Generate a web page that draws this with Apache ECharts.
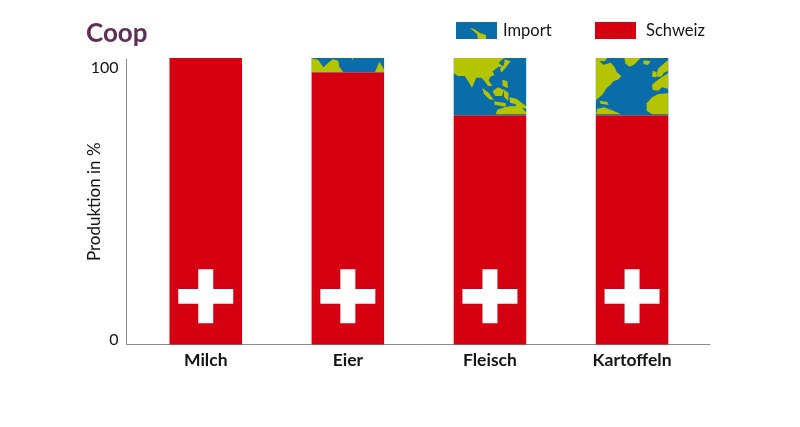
<!DOCTYPE html>
<html>
<head>
<meta charset="utf-8">
<style>html,body{margin:0;padding:0;background:#fff}#c{width:800px;height:427px}</style>
<script src="https://cdn.jsdelivr.net/npm/echarts@6/dist/echarts.min.js"></script>
</head>
<body>
<div id="c"></div>
<script>
const categories = ['Milch', 'Eier', 'Fleisch', 'Kartoffeln'];
const schweiz = [100, 95, 80, 80];
const importe = [0, 5, 20, 20];
const crossLevel = [16.8, 16.8, 16.8, 16.8];
const yTicks = [0, 100];

const BLUE = '#0a6ca8', LAND = '#b5c400', RED = '#d40012';

// Decorative world-map fills for the import segments (zoom-space outlines: offset + v/3)
const maps = [
  { o: [448, 52], p: [
    [[17,18],[168,18],[152,32],[166,46],[152,44],[134,58],[139,70],[127,74],[122,85],[133,102],[120,102],[110,88],[100,77],[85,77],[72,107],[60,87],[50,72],[30,72],[17,64]],
    [[170,22],[188,28],[174,46],[160,62],[156,50],[168,38]],
    [[163,83],[178,88],[180,108],[164,102]],
    [[133,118],[150,106],[168,114],[162,132],[142,132]],
    [[103,108],[122,122],[138,144],[124,142],[108,126]],
    [[138,148],[174,154],[172,164],[140,158]],
    [[168,113],[182,123],[180,147],[168,134]],
    [[184,136],[205,140],[235,163],[235,170],[218,167],[203,157],[186,152]],
    [[143,187],[148,173],[170,166],[185,163],[200,163],[212,155],[224,170],[234,180],[234,187]]
  ]},
  { o: [590, 52], p: [
    [[18,18],[52,18],[44,28],[28,27],[40,38],[62,32],[74,46],[80,60],[94,72],[86,82],[70,88],[62,98],[50,108],[37,128],[28,136],[18,144]],
    [[103,18],[152,18],[132,38],[118,44],[106,34]],
    [[161,25],[182,28],[174,39],[160,36]],
    [[188,56],[200,60],[198,76],[186,74]],
    [[198,74],[204,50],[220,36],[234,24],[234,57],[222,62],[214,74]],
    [[234,64],[215,76],[200,86],[186,98],[188,114],[205,116],[216,106],[234,110]],
    [[234,124],[205,126],[186,136],[170,154],[170,176],[186,187],[234,187]],
    [[18,187],[22,170],[42,166],[64,174],[94,187]],
    [[28,146],[52,150],[56,159],[32,155]]
  ]},
  { o: [60, 10], p: [
    [[755,145],[775,150],[790,172],[805,158],[818,148],[835,152],[838,170],[850,187],[755,187]],
    [[945,187],[958,155],[972,178],[972,187]],
    [[875,143],[882,146],[876,149]]
  ]}
];

function importFill() {
  const cv = document.createElement('canvas');
  cv.width = 800; cv.height = 427;
  const g = cv.getContext('2d');
  g.fillStyle = BLUE; g.fillRect(0, 0, 800, 427);
  g.fillStyle = LAND;
  maps.forEach(m => m.p.forEach(poly => {
    g.beginPath();
    poly.forEach((v, i) => {
      const x = m.o[0] + v[0] / 3, y = m.o[1] + v[1] / 3;
      i ? g.lineTo(x, y) : g.moveTo(x, y);
    });
    g.closePath(); g.fill();
  }));
  return { image: cv, repeat: 'no-repeat' };
}
function swatchFill() {
  const cv = document.createElement('canvas');
  cv.width = 41; cv.height = 17;
  const g = cv.getContext('2d');
  g.fillStyle = BLUE; g.fillRect(0, 0, 41, 17);
  g.fillStyle = LAND;
  g.beginPath();
  [[14,6],[18,7],[24,11],[30,13],[30,17],[22,17],[21,12]].forEach((v, i) => i ? g.lineTo(v[0], v[1]) : g.moveTo(v[0], v[1]));
  g.closePath(); g.fill();
  return { image: cv, repeat: 'no-repeat' };
}

const FONT = 'Lato';
const TXT = '#141414', AXIS = '#8c8c8c';
const chart = echarts.init(document.getElementById('c'), null, { renderer: 'canvas', devicePixelRatio: 1 });
const fill = importFill();

chart.setOption({
  animation: false,
  backgroundColor: '#fff',
  title: {
    text: 'Coop', left: 81, top: 16,
    textStyle: { fontFamily: FONT, fontSize: 26, fontWeight: 'bold', color: '#5f2f58' }
  },
  legend: [
    { data: [{ name: 'Import', icon: 'rect', itemStyle: { color: swatchFill() } }], left: 451, top: 17, itemWidth: 41, itemHeight: 17, selectedMode: false,
      textStyle: { fontFamily: FONT, fontSize: 16.5, color: TXT, padding: [7, 0, 0, 1] } },
    { data: [{ name: 'Schweiz', icon: 'rect' }], left: 590, top: 17, itemWidth: 41, itemHeight: 17, selectedMode: false,
      textStyle: { fontFamily: FONT, fontSize: 16.5, color: TXT, padding: [-3, 0, 0, 5] } }
  ],
  grid: [
    { left: 134.7, top: 58, width: 568.4, height: 286.5 },
    { left: 126.5, top: 59, width: 583.5, height: 285.5 }
  ],
  xAxis: [
    { type: 'category', gridIndex: 0, data: categories,
      axisLine: { show: false }, axisTick: { show: false },
      axisLabel: { fontFamily: FONT, fontSize: 17.5, fontWeight: 'bold', color: TXT, margin: 7 } },
    { type: 'category', gridIndex: 1, data: [''], axisLine: { lineStyle: { color: AXIS, width: 1 } },
      axisTick: { show: false }, axisLabel: { show: false } }
  ],
  yAxis: [
    { type: 'value', gridIndex: 0, min: 0, max: 100, show: false },
    { type: 'value', gridIndex: 1, min: 0, max: 100, interval: 100,
      name: 'Produktion in %', nameLocation: 'middle', nameGap: 23, nameMoveOverlap: false,
      nameTextStyle: { fontFamily: FONT, fontSize: 17, color: TXT },
      axisLine: { show: true, lineStyle: { color: AXIS, width: 1 } },
      axisTick: { show: false }, splitLine: { show: false },
      axisLabel: { fontFamily: FONT, fontSize: 16, color: TXT, margin: 8, padding: [1, 0, -3, 0],
        verticalAlignMinLabel: 'bottom', verticalAlignMaxLabel: 'top',
        customValues: yTicks } }
  ],
  series: [
    { name: 'Schweiz', type: 'bar', stack: 'a', xAxisIndex: 0, yAxisIndex: 0, barWidth: 72.5,
      data: schweiz, itemStyle: { color: RED }, silent: true },
    { name: 'Import', type: 'bar', stack: 'a', xAxisIndex: 0, yAxisIndex: 0, barWidth: 72.5,
      data: importe, itemStyle: { color: fill }, silent: true },
    { name: 'Kreuz', type: 'scatter', xAxisIndex: 0, yAxisIndex: 0, z: 5, silent: true,
      symbol: 'path://M20 0H35V20H55V35H35V55H20V35H0V20H20Z', symbolSize: [55, 54],
      data: crossLevel, itemStyle: { color: '#fff', opacity: 1 } }
  ]
});
</script>
</body>
</html>
